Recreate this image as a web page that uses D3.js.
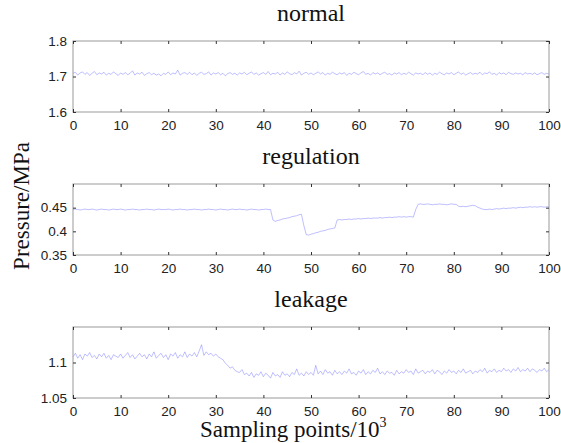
<!DOCTYPE html>
<html>
<head>
<meta charset="utf-8">
<script src="https://cdn.jsdelivr.net/npm/d3@7"></script>
<style>
  body { margin: 0; background: #fff; }
  .tick text { font-family: "Liberation Sans", Arial, sans-serif; font-size: 13.5px; fill: #222; }
  .title { font-family: "Liberation Serif", "Times New Roman", serif; font-size: 24px; fill: #111; }
  .axisLabel { font-family: "Liberation Serif", "Times New Roman", serif; font-size: 23px; fill: #111; }
</style>
</head>
<body>
<div id="chart"></div>
<script>

// sampling points (x10^3), one value every 0.5
const xStep = 0.5;
const xTicks = [0, 10, 20, 30, 40, 50, 60, 70, 80, 90, 100];

const normalValues = [
  1.709,1.712,1.704,1.710,1.713,1.706,1.711,1.703,1.709,1.714,
  1.705,1.710,1.707,1.712,1.704,1.709,1.706,1.713,1.708,1.703,
  1.710,1.706,1.711,1.705,1.709,1.716,1.704,1.710,1.707,1.712,
  1.703,1.708,1.711,1.705,1.709,1.704,1.707,1.702,1.709,1.706,
  1.713,1.705,1.710,1.707,1.718,1.704,1.709,1.711,1.706,1.712,
  1.705,1.710,1.703,1.709,1.712,1.706,1.708,1.713,1.704,1.710,
  1.707,1.711,1.705,1.709,1.702,1.708,1.711,1.706,1.709,1.704,
  1.710,1.707,1.712,1.705,1.709,1.713,1.706,1.710,1.704,1.708,
  1.711,1.706,1.714,1.705,1.709,1.707,1.712,1.704,1.710,1.706,
  1.713,1.708,1.705,1.711,1.707,1.715,1.704,1.709,1.712,1.706,
  1.710,1.705,1.709,1.713,1.707,1.711,1.704,1.709,1.706,1.712,
  1.708,1.705,1.710,1.707,1.711,1.703,1.709,1.706,1.712,1.708,
  1.705,1.710,1.714,1.706,1.709,1.704,1.711,1.707,1.710,1.705,
  1.709,1.712,1.706,1.708,1.704,1.710,1.707,1.711,1.705,1.709,
  1.706,1.712,1.708,1.704,1.710,1.707,1.709,1.705,1.711,1.706,
  1.710,1.704,1.709,1.706,1.712,1.708,1.705,1.710,1.707,1.711,
  1.705,1.709,1.713,1.706,1.710,1.704,1.708,1.711,1.706,1.709,
  1.707,1.712,1.705,1.710,1.708,1.713,1.706,1.709,1.704,1.711,
  1.707,1.710,1.705,1.712,1.708,1.706,1.710,1.707,1.709,1.705,
  1.711,1.707,1.709,1.706,1.710,1.705,1.708,1.711,1.706,1.709,
  1.707
];

const regulationValues = [
  0.446,0.447,0.446,0.445,0.446,0.447,0.446,0.446,0.447,0.446,
  0.445,0.446,0.447,0.446,0.446,0.445,0.446,0.447,0.446,0.446,
  0.447,0.446,0.445,0.446,0.446,0.447,0.446,0.446,0.445,0.446,
  0.446,0.447,0.446,0.446,0.445,0.446,0.447,0.446,0.446,0.446,
  0.447,0.446,0.445,0.446,0.446,0.447,0.446,0.446,0.445,0.446,
  0.446,0.447,0.446,0.446,0.445,0.446,0.446,0.447,0.446,0.446,
  0.445,0.446,0.447,0.446,0.446,0.445,0.446,0.447,0.446,0.446,
  0.447,0.446,0.446,0.445,0.446,0.447,0.446,0.446,0.445,0.446,
  0.446,0.447,0.446,0.446,
  0.424,0.421,0.423,0.424,0.426,0.427,0.428,0.429,0.431,0.432,0.433,0.435,0.436,
  0.412,0.393,0.392,0.394,0.395,0.397,0.398,0.400,0.401,0.402,0.404,0.405,0.406,0.407,
  0.424,0.425,0.424,0.425,0.425,0.426,0.425,0.426,0.426,0.427,
  0.426,0.427,0.427,0.428,0.427,0.428,0.428,0.428,0.429,0.428,
  0.429,0.429,0.430,0.429,0.430,0.430,0.431,0.430,0.431,0.430,
  0.431,0.431,0.430,
  0.446,0.457,0.458,0.457,0.457,0.458,0.457,0.456,0.457,0.457,
  0.458,0.457,0.457,0.456,0.457,0.458,0.457,0.457,
  0.453,0.452,0.453,0.452,0.453,0.454,0.455,0.454,0.451,0.449,
  0.447,0.446,0.446,0.447,0.446,0.447,0.448,0.447,0.448,0.449,
  0.448,0.449,0.449,0.450,0.449,0.450,0.451,0.450,0.451,0.451,
  0.452,0.451,0.452,0.451,0.452,0.452,0.451,0.452,0.452
];

const leakageValues = [
  1.108,1.113,1.106,1.111,1.104,1.112,1.109,1.114,1.107,1.110,
  1.105,1.112,1.108,1.113,1.106,1.110,1.104,1.111,1.109,1.107,
  1.112,1.106,1.110,1.114,1.107,1.111,1.105,1.109,1.113,1.108,
  1.111,1.105,1.112,1.108,1.115,1.106,1.110,1.113,1.107,1.111,
  1.104,1.112,1.109,1.114,1.106,1.111,1.108,1.115,1.107,1.112,
  1.109,1.114,1.108,1.116,1.125,1.110,1.115,1.111,1.113,1.109,
  1.112,1.108,1.106,1.104,1.099,1.096,1.092,1.094,1.089,1.087,
  1.086,1.090,1.083,1.085,1.081,1.086,1.079,1.084,1.082,1.087,
  1.080,1.085,1.082,1.078,1.086,1.081,1.083,1.079,1.087,1.082,
  1.084,1.080,1.086,1.083,1.091,1.082,1.085,1.081,1.087,1.083,
  1.086,1.082,1.096,1.084,1.088,1.083,1.090,1.085,1.087,1.082,
  1.089,1.084,1.087,1.083,1.088,1.085,1.091,1.084,1.086,1.082,
  1.088,1.085,1.090,1.083,1.087,1.084,1.089,1.086,1.092,1.084,
  1.087,1.083,1.088,1.085,1.086,1.082,1.089,1.084,1.087,1.085,
  1.090,1.086,1.088,1.083,1.091,1.085,1.087,1.089,1.084,1.088,
  1.086,1.090,1.084,1.089,1.087,1.083,1.088,1.085,1.090,1.086,
  1.088,1.084,1.089,1.086,1.091,1.085,1.087,1.089,1.084,1.088,
  1.086,1.090,1.087,1.092,1.085,1.089,1.087,1.091,1.086,1.089,
  1.087,1.092,1.088,1.090,1.086,1.091,1.088,1.093,1.087,1.090,
  1.088,1.092,1.087,1.091,1.089,1.086,1.090,1.088,1.092,1.087,
  1.090
];

const panelTitles = ["normal", "regulation", "leakage"];
const yDomains = [[1.6, 1.8], [0.35, 0.5], [1.05, 1.15]];
const yTicks = [[1.6, 1.7, 1.8], [0.35, 0.4, 0.45], [1.05, 1.1]];
const series = [normalValues, regulationValues, leakageValues];

/*
DIMENSIONS
*/
const width = 561;
const height = 443;
const plotLeft = 73, plotRight = 549;
const panelTops = [41, 184, 327];
const panelHeight = 71;

const svg = d3.select("#chart")
    .append("svg")
    .attr("width", width)
    .attr("height", height);

const xScale = d3.scaleLinear()
    .domain([0, 100])
    .range([plotLeft, plotRight]);

const line = d3.line()
    .x(function(d, i) { return xScale(i * xStep); });

/*
DRAW EACH PANEL
*/
series.forEach(function(values, p) {
    const top = panelTops[p];
    const bottom = top + panelHeight;

    const yScale = d3.scaleLinear()
        .domain(yDomains[p])
        .range([bottom, top]);

    // data line
    svg.append("path")
        .datum(values)
        .attr("fill", "none")
        .attr("stroke", "#7878ff")
        .attr("stroke-width", 0.6)
        .attr("stroke-opacity", 0.8)
        .attr("d", line.y(function(d) { return yScale(d); }));

    // box
    svg.append("rect")
        .attr("x", plotLeft)
        .attr("y", top)
        .attr("width", plotRight - plotLeft)
        .attr("height", panelHeight)
        .attr("fill", "none")
        .attr("stroke", "#9a9a9a")
        .attr("stroke-width", 1);

    // axes, ticks pointing inward like matlab
    svg.append("g")
        .attr("transform", `translate(0,${bottom})`)
        .call(d3.axisBottom(xScale).tickValues(xTicks).tickSizeInner(-3).tickSizeOuter(0).tickPadding(8));

    svg.append("g")
        .attr("transform", `translate(0,${top})`)
        .call(d3.axisTop(xScale).tickValues(xTicks).tickSizeInner(-3).tickSizeOuter(0).tickFormat(""));

    svg.append("g")
        .attr("transform", `translate(${plotLeft},0)`)
        .call(d3.axisLeft(yScale).tickValues(yTicks[p]).tickSizeInner(-3).tickSizeOuter(0).tickPadding(6)
            .tickFormat(function(d) { return String(d); }));

    svg.append("g")
        .attr("transform", `translate(${plotRight},0)`)
        .call(d3.axisRight(yScale).tickValues(yTicks[p]).tickSizeInner(-3).tickSizeOuter(0).tickFormat(""));

    svg.selectAll(".domain").remove();
    svg.selectAll(".tick line").attr("stroke", "#333");

    // panel title
    svg.append("text")
        .attr("class", "title")
        .attr("x", (plotLeft + plotRight) / 2)
        .attr("y", top - 20)
        .attr("text-anchor", "middle")
        .text(panelTitles[p]);
});

/*
AXIS LABELS
*/
svg.append("text")
    .attr("class", "axisLabel")
    .attr("transform", "rotate(-90)")
    .attr("x", -206)
    .attr("y", 29)
    .attr("text-anchor", "middle")
    .text("Pressure/MPa");

const xLabel = svg.append("text")
    .attr("class", "axisLabel")
    .attr("x", 200)
    .attr("y", 437);
xLabel.append("tspan").text("Sampling points/10");
xLabel.append("tspan")
    .attr("dy", -10)
    .attr("font-size", 14)
    .text("3");

</script>
</body>
</html>
